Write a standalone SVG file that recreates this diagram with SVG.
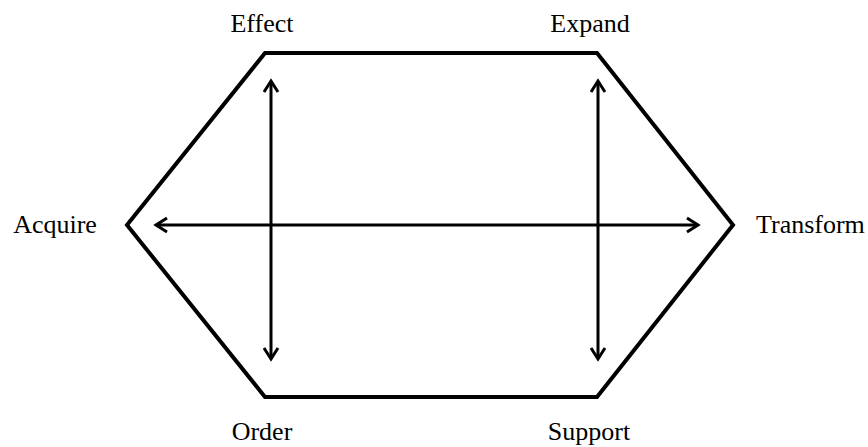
<svg xmlns="http://www.w3.org/2000/svg" width="868" height="447" viewBox="0 0 868 447">
<style>
text{font-family:"Liberation Serif","Times New Roman",serif;font-size:26px;fill:#000}
.hex{fill:none;stroke:#000;stroke-width:4;stroke-linejoin:miter}
.arr{fill:none;stroke:#000;stroke-width:3}
.head{fill:none;stroke:#000;stroke-width:3;stroke-linecap:butt;stroke-linejoin:miter}
</style>
<g id="hexagon"><polygon class="hex" points="265,53 597,53 733,225 597,397 265,397 127,225"/></g>
<g id="effect"><text x="262" y="32" text-anchor="middle">Effect</text></g>
<g id="expand"><text x="590" y="32" text-anchor="middle">Expand</text></g>
<g id="acquire"><text x="55" y="233" text-anchor="middle">Acquire</text></g>
<g id="transform"><text x="756" y="233">Transform</text></g>
<g id="order"><text x="262" y="440" text-anchor="middle">Order</text></g>
<g id="support"><text x="589" y="440" text-anchor="middle">Support</text></g>
<g id="connectors">
<line class="arr" x1="271" y1="82" x2="271" y2="358"/>
<polyline class="head" points="264,92 271,81 278,92"/>
<polyline class="head" points="264,348 271,359 278,348"/>
<line class="arr" x1="598" y1="82" x2="598" y2="358"/>
<polyline class="head" points="591,92 598,81 605,92"/>
<polyline class="head" points="591,348 598,359 605,348"/>
<line class="arr" x1="157" y1="225" x2="697" y2="225"/>
<polyline class="head" points="167,218 156,225 167,232"/>
<polyline class="head" points="687,218 698,225 687,232"/>
</g>
</svg>
